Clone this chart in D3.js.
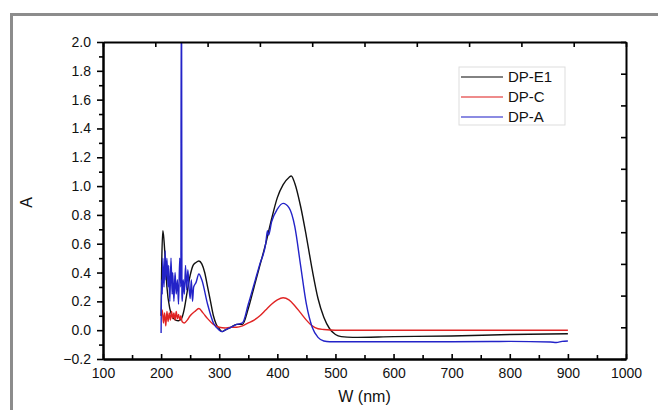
<!DOCTYPE html>
<html>
<head>
<meta charset="utf-8">
<script src="https://cdn.jsdelivr.net/npm/d3@7"></script>
<style>
body { margin: 0; background: white; }
svg { display: block; font-family: "Liberation Sans", Arial, sans-serif; }
</style>
</head>
<body>
<div id="chart"></div>
<script>
var width = 658
var height = 410
var plot = {left: 103, right: 626, top: 42, bottom: 359}

// Wavelength / absorbance readings

var black_w = [200, 201, 203, 205, 207, 210, 215, 220, 225, 230, 235, 240, 245, 250, 255, 260, 265, 270, 275, 280, 285, 290, 295, 300, 305, 310, 320, 330, 340, 350, 360, 370, 380, 390, 400, 410, 420, 424, 430, 440, 450, 460, 470, 480, 490, 500, 510, 530, 600, 700, 800, 900]
var black_a = [0.10, 0.45, 0.69, 0.62, 0.50, 0.30, 0.15, 0.09, 0.07, 0.065, 0.08, 0.15, 0.27, 0.38, 0.45, 0.47, 0.48, 0.46, 0.40, 0.30, 0.20, 0.10, 0.04, 0.01, -0.01, 0.00, 0.02, 0.04, 0.04, 0.15, 0.30, 0.45, 0.60, 0.77, 0.92, 1.01, 1.06, 1.07, 1.02, 0.86, 0.65, 0.42, 0.22, 0.09, 0.01, -0.03, -0.045, -0.05, -0.045, -0.04, -0.03, -0.025]

var red_w = [200, 202, 204, 206, 208, 210, 212, 214, 216, 218, 220, 222, 224, 226, 228, 230, 232, 234, 236, 240, 245, 250, 258, 265, 272, 280, 290, 300, 310, 320, 330, 340, 350, 360, 370, 380, 390, 400, 410, 420, 430, 440, 450, 460, 470, 480, 500, 600, 700, 800, 900]
var red_a = [0.10, 0.14, 0.05, 0.12, 0.03, 0.13, 0.06, 0.12, 0.07, 0.13, 0.08, 0.12, 0.07, 0.13, 0.08, 0.11, 0.07, 0.10, 0.06, 0.05, 0.07, 0.10, 0.13, 0.15, 0.12, 0.08, 0.04, 0.02, 0.015, 0.02, 0.02, 0.03, 0.05, 0.07, 0.10, 0.14, 0.18, 0.21, 0.225, 0.21, 0.17, 0.12, 0.07, 0.03, 0.01, 0.005, 0.0, 0.0, 0.0, 0.0, 0.0]

var blue_w = [200, 201, 202, 203, 205, 207, 208, 210, 212, 213, 215, 217, 219, 220, 222, 224, 226, 228, 230, 232, 234, 234.6, 235.2, 235.8, 236.4, 238, 240, 242, 244, 246, 248, 250, 252, 254, 256, 260, 265, 270, 280, 290, 300, 305, 310, 320, 330, 340, 350, 360, 370, 380, 383, 385, 390, 400, 410, 420, 430, 440, 450, 460, 470, 480, 490, 500, 600, 700, 800, 870, 880, 890, 900]
var blue_a = [-0.02, 0.35, 0.25, 0.50, 0.30, 0.55, 0.35, 0.50, 0.30, 0.45, 0.20, 0.50, 0.25, 0.40, 0.20, 0.40, 0.25, 0.35, 0.18, 0.50, 0.30, 2.3, 2.3, 0.25, 0.20, 0.35, 0.25, 0.45, 0.28, 0.42, 0.30, 0.22, 0.35, 0.20, 0.30, 0.33, 0.39, 0.35, 0.18, 0.05, 0.00, -0.01, 0.00, 0.02, 0.04, 0.05, 0.18, 0.32, 0.46, 0.60, 0.69, 0.66, 0.75, 0.84, 0.88, 0.85, 0.72, 0.45, 0.18, 0.02, -0.05, -0.075, -0.08, -0.08, -0.08, -0.08, -0.078, -0.082, -0.085, -0.078, -0.075]

var series_names = ["DP-E1", "DP-C", "DP-A"]
var series_colors = ["#111111", "#e02424", "#2323c8"]

var x_ticks = [100, 200, 300, 400, 500, 600, 700, 800, 900, 1000]
var y_ticks = [-0.2, 0.0, 0.2, 0.4, 0.6, 0.8, 1.0, 1.2, 1.4, 1.6, 1.8, 2.0]

// Scales

var x_scale = d3.scaleLinear()
    .domain([100, 1000])
    .range([plot.left, plot.right]);

var y_scale = d3.scaleLinear()
    .domain([-0.2, 2.0])
    .range([plot.bottom, plot.top]);

var svg = d3.select("#chart")
    .append("svg")
    .attr("width", width)
    .attr("height", height)

// Grey frame

svg.append("rect")
    .attr("x", 11.5)
    .attr("y", 14.5)
    .attr("width", 700)
    .attr("height", 500)
    .style("fill", "none")
    .style("stroke", "#8c8c8c")
    .style("stroke-width", 3)

svg.append("clipPath")
    .attr("id", "clip")
    .append("rect")
    .attr("x", plot.left)
    .attr("y", plot.top)
    .attr("width", plot.right - plot.left)
    .attr("height", plot.bottom - plot.top)

// Curves

var line = d3.line()
    .x(function(d) { return x_scale(d[0]); })
    .y(function(d) { return y_scale(d[1]); })
    .curve(d3.curveMonotoneX);

var curves = [
    d3.zip(black_w, black_a),
    d3.zip(red_w, red_a),
    d3.zip(blue_w, blue_a)
]

svg.append("g")
    .attr("clip-path", "url(#clip)")
    .selectAll("path")
    .data(curves)
    .enter()
    .append("path")
    .attr("d", line)
    .style("fill", "none")
    .style("stroke", function(d, i) { return series_colors[i]; })
    .style("stroke-width", 1.4)

// Axes

var minor_x = d3.range(150, 1000, 100)
var minor_y = d3.range(-0.1, 2.0, 0.2)

svg.append("g")
    .attr("transform", "translate(0," + plot.bottom + ")")
    .call(d3.axisBottom(x_scale).tickValues(x_ticks).tickSizeInner(-5).tickSizeOuter(0).tickPadding(9).tickFormat(d3.format("d")))
svg.append("g")
    .attr("transform", "translate(0," + plot.bottom + ")")
    .call(d3.axisBottom(x_scale).tickValues(minor_x).tickSizeInner(-4).tickSizeOuter(0).tickFormat(""))

svg.append("g")
    .attr("transform", "translate(" + plot.left + ",0)")
    .call(d3.axisLeft(y_scale).tickValues(y_ticks).tickSizeInner(6).tickSizeOuter(0).tickPadding(6).tickFormat(d3.format(".1f")))
svg.append("g")
    .attr("transform", "translate(" + plot.left + ",0)")
    .call(d3.axisLeft(y_scale).tickValues(minor_y).tickSizeInner(4).tickSizeOuter(0).tickFormat(""))

// top and right axes use their own tick spacing
var top_scale = d3.scaleLinear().domain([0, 10]).range([plot.left, plot.right])
var right_scale = d3.scaleLinear().domain([0, 10]).range([plot.bottom, plot.top])

svg.append("g")
    .attr("transform", "translate(0," + plot.top + ")")
    .call(d3.axisTop(top_scale).ticks(10).tickSizeInner(-5).tickSizeOuter(0).tickFormat(""))
svg.append("g")
    .attr("transform", "translate(" + plot.right + ",0)")
    .call(d3.axisRight(right_scale).ticks(10).tickSizeInner(-5).tickSizeOuter(0).tickFormat(""))

svg.selectAll(".domain").style("stroke", "#000").style("stroke-width", 2)
svg.selectAll(".tick line").style("stroke", "#000").style("stroke-width", 1.6)
svg.selectAll(".tick text").style("font-size", "14px").style("fill", "#111")
    .style("font-family", "'Liberation Sans', Arial, sans-serif")

// Axis titles

svg.append("text")
    .attr("x", (plot.left + plot.right) / 2)
    .attr("y", 402)
    .attr("text-anchor", "middle")
    .style("font-size", "16px")
    .style("fill", "#111")
    .text("W (nm)")

svg.append("text")
    .attr("transform", "translate(32," + ((plot.top + plot.bottom) / 2 + 2) + ") rotate(-90)")
    .attr("text-anchor", "middle")
    .style("font-size", "16px")
    .style("fill", "#111")
    .text("A")

// Legend

var legend = svg.append("g")
    .attr("transform", "translate(459,67)")

legend.append("rect")
    .attr("width", 106)
    .attr("height", 58)
    .style("fill", "white")
    .style("stroke", "#dddddd")
    .style("stroke-width", 1)

var items = legend.selectAll(".item")
    .data(series_names)
    .enter()
    .append("g")
    .attr("transform", function(d, i) { return "translate(0," + (10 + i * 20) + ")"; })

items.append("line")
    .attr("x1", 2)
    .attr("x2", 44)
    .style("stroke", function(d, i) { return series_colors[i]; })
    .style("stroke-opacity", 0.7)
    .style("stroke-width", 1.3)

items.append("text")
    .attr("x", 49)
    .attr("dy", "0.36em")
    .style("font-size", "15px")
    .style("fill", "#111")
    .text(function(d) { return d; })
</script>
</body>
</html>
